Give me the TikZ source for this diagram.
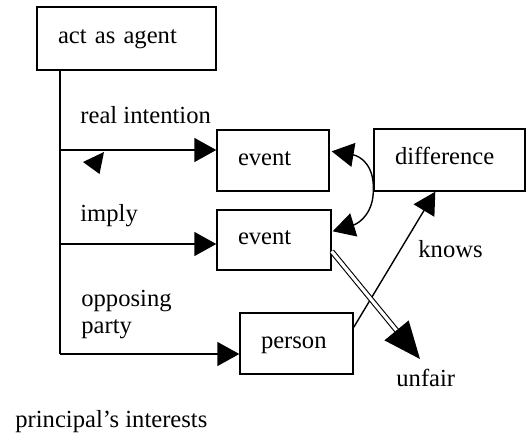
\documentclass[tikz,border=0pt]{standalone}
\usepackage{fontspec}
\setmainfont{Liberation Serif}
\usetikzlibrary{arrows.meta,calc}
\begin{document}
\begin{tikzpicture}[x=0.5pt,y=-0.5pt,
  every node/.style={font=\fontsize{12.3}{14}\selectfont},
  box/.style={draw, line width=0.7pt, rectangle, inner xsep=10.5pt, inner ysep=0pt,
    align=left, text height=0.7em, text depth=0.25em},
  lbl/.style={inner sep=0pt, anchor=base west},
  ln/.style={line width=0.7pt},
  arr/.style={line width=0.7pt, -{Triangle[length=11pt,width=12pt]}}]
\useasboundingbox (0,0) rectangle (526,435);
% boxes
\node[box, text width=68.5pt, minimum height=31.5pt] (agent) at (126.5,38.5) {act as agent};
\node[box, text width=35pt, minimum height=30.5pt] (ev1) at (273,160.5) {event};
\node[box, text width=54.5pt, minimum height=31pt] (diff) at (449.5,160) {difference};
\node[box, text width=36pt, minimum height=30pt] (ev2) at (274,240) {event};
\node[box, text width=35.5pt, minimum height=30.5pt] (person) at (296.5,343.5) {person};
% labels
\node[lbl] (lri) at (80,123) {real intention};
\node[lbl] (lim) at (80,221) {imply};
\node[lbl] (lop1) at (81,306) {opposing};
\node[lbl] (lop2) at (81,333) {party};
\node[lbl] (lkn) at (418,257) {knows};
\node[lbl] (lun) at (396,386) {unfair};
\node[lbl] (lpi) at (15,427) {principal’s interests};
% trunk
\coordinate (j1) at (60,150);
\coordinate (j2) at (60,244);
\coordinate (j3) at (60,354);
\draw[ln] (agent.south -| j1) -- (j3);
\draw[arr] (j1) -- (j1 -| ev1.west);
\draw[arr] (j2) -- (j2 -| ev2.west);
\draw[arr] (j3) -- (j3 -| person.west);
% stray arrowhead
\fill (83,162) -- (104,152) -- (99.5,174) -- cycle;
% curves from difference
\coordinate (dp) at ($(diff.south west)+(0,-3)$);
\coordinate (e1) at ($(ev1.north east)+(2,22)$);
\coordinate (e2) at ($(ev2.north east)+(1,22)$);
\draw[arr] (dp) .. controls (374,165) and (360,156) .. (e1);
\draw[arr] (dp) .. controls (374,212) and (360,223) .. (e2);
% knows
\coordinate (pk) at ($(person.north east)+(0,15)$);
\coordinate (dk) at ($(diff.south west)+(62,0)$);
\draw[arr] (pk) -- (dk);
% unfair double arrow
\coordinate (us) at ($(ev2.north east)+(0,42)$);
\coordinate (ut) at (420,359);
\draw[double, double distance=1.6pt, line width=0.55pt, shorten >=16pt] (us) -- (ut);
\draw[line width=0.7pt, -{Triangle[length=18.5pt,width=15.5pt]}] ($(us)!0.75!(ut)$) -- (ut);
\end{tikzpicture}
\end{document}
